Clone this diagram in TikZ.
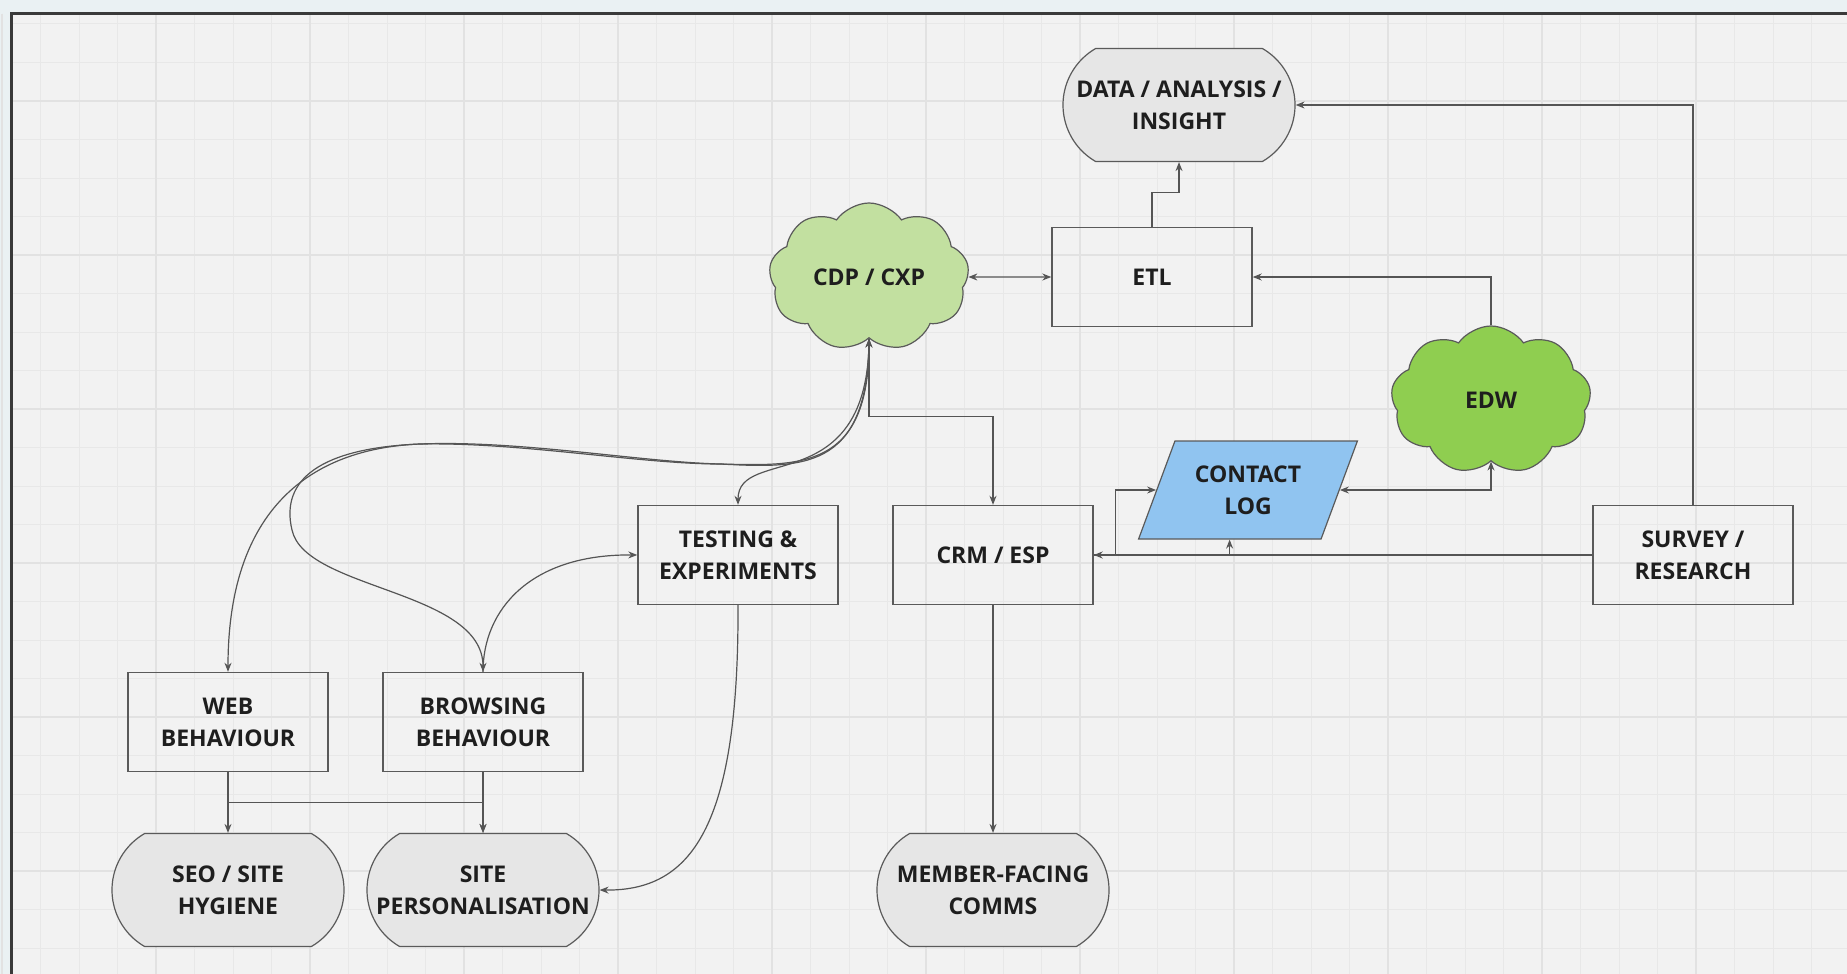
\documentclass[tikz,border=0pt]{standalone}
\usepackage{fontspec}
\setmainfont{Open Sans}
\usepackage{tikz}
\usetikzlibrary{arrows.meta,shapes.geometric,shapes.misc,shapes.symbols}
\definecolor{bgc}{HTML}{F2F2F2}
\definecolor{edgec}{HTML}{EAF1F3}
\definecolor{gridc}{HTML}{E8E8E8}
\definecolor{gridmaj}{HTML}{E2E2E2}
\definecolor{framec}{HTML}{3A3A3A}
\definecolor{linec}{HTML}{5A5A5A}
\definecolor{connc}{HTML}{555555}
\definecolor{txtc}{HTML}{1E1E1E}
\definecolor{termc}{HTML}{E6E6E6}
\definecolor{cdpc}{HTML}{C2E0A0}
\definecolor{edwc}{HTML}{8FCE50}
\definecolor{logc}{HTML}{90C4F0}

\begin{document}
\begin{tikzpicture}[x=0.5pt,y=0.5pt,yscale=-1,
  >={Stealth[length=4.5pt,width=3.5pt]},
  every node/.style={font=\fontsize{11.5}{16}\selectfont\bfseries,text=txtc,align=center},
  box/.style={draw=linec,line width=0.7pt,minimum width=100pt,minimum height=49.5pt,inner sep=0pt},
  term/.style={rounded rectangle,rounded rectangle arc length=120,draw=linec,fill=termc,line width=0.6pt,minimum width=116pt,minimum height=56.5pt,inner sep=0pt},
  cloudy/.style={cloud,cloud puffs=9,cloud puff arc=110,draw=linec,line width=0.6pt,minimum width=100pt,minimum height=74pt,inner sep=0pt},
  para/.style={trapezium,trapezium left angle=61.6,trapezium right angle=118.4,trapezium stretches=true,draw=linec,fill=logc,line width=0.6pt,minimum width=110pt,minimum height=49pt,inner sep=0pt},
  conn/.style={draw=connc,line width=0.6pt}]
\useasboundingbox (0,0) rectangle (1847,974);

%Board and grid
\fill[edgec] (0,0) rectangle (1847,974);
\fill[bgc] (11,14) rectangle (1847,974);
\foreach \gx in {0,...,47} \draw[gridc,line width=0.5pt] ({2+38.5*\gx},14) -- ({2+38.5*\gx},974);
\foreach \gy in {0,...,24} \draw[gridc,line width=0.5pt] (11,{24+38.5*\gy}) -- (1847,{24+38.5*\gy});
\foreach \gx in {0,...,11} \draw[gridmaj,line width=0.8pt] ({2+154*\gx},14) -- ({2+154*\gx},974);
\foreach \gy in {0,...,5} \draw[gridmaj,line width=0.8pt] (11,{101+154*\gy}) -- (1847,{101+154*\gy});
\draw[framec,line width=1.5pt] (11,974) -- (11,14) -- (1847,14);

% Shapes
\node[term] (data) at (1179,105) {DATA / ANALYSIS /\\INSIGHT};
\node[box] (etl) at (1152,277) {ETL};
\node[cloudy,fill=cdpc] (cdp) at (869,277) {\makebox[0pt]{CDP / CXP}};
\node[cloudy,fill=edwc] (edw) at (1491,400) {\makebox[0pt]{EDW}};
\node[para] (clog) at (1248,490) {CONTACT\\LOG};
\node[box] (test) at (738,555) {TESTING \&\\EXPERIMENTS};
\node[box] (crm) at (993,555) {CRM / ESP};
\node[box] (survey) at (1693,555) {SURVEY /\\RESEARCH};
\node[box] (web) at (228,722) {WEB\\BEHAVIOUR};
\node[box] (browse) at (483,722) {BROWSING\\BEHAVIOUR};
\node[term] (seo) at (228,890) {SEO / SITE\\HYGIENE};
\node[term] (sitep) at (483,890) {SITE\\PERSONALISATION};
\node[term] (comms) at (993,890) {MEMBER-FACING\\COMMS};

\coordinate (bend) at (720,464);
\coordinate (hump) at (420,444);
\coordinate (split) at (292,530);

%Straight Lines
\draw[conn,->] (etl.north) -- ++(0,-34) -| (data.south);
\draw[conn,<->] (cdp.east) -- (etl.west);
\draw[conn,->] (edw.north) |- (etl.east);
\draw[conn,->] (survey.north) |- (data.east);
\draw[conn,->] (cdp.south) -- ++(0,78) -| (crm.north);
\draw[conn,<->] (clog.right side) -| (edw.south);
\draw[conn,->] (crm.east) -- ++(22,0) |- (clog.left side);
\draw[conn,->] (survey.west) -- (crm.east);
\draw[conn,->] (survey.west) -| (clog.bottom side);
\draw[conn,->] (crm.south) -- (comms.north);
\draw[conn,->] (web.south) -- (seo.north);
\draw[conn,->] (web.south) -- ++(0,30) -| (sitep.north);
\draw[conn,->] (browse.south) -- (sitep.north);

%Curve Lines
\draw[conn,->] (cdp.south) .. controls (869,500) and (738,445) .. (test.north);
\draw[conn,<->] (cdp.south) .. controls (869,470) and (800,466) .. (bend) .. controls (640,462) and (520,440) .. (hump) .. controls (320,448) and (228,500) .. (web.north);
\draw[conn,<->] (cdp.south) .. controls (867,472) and (800,468) .. (bend) .. controls (640,464) and (520,442) .. (hump) .. controls (320,448) and (280,480) .. (split) .. controls (305,590) and (483,590) .. (browse.north);
\draw[conn,->] (browse.north) .. controls (483,610) and (530,554) .. (test.west);
\draw[conn,->] (test.south) .. controls (739,830) and (690,891) .. (sitep.east);

\end{tikzpicture}
\end{document}
